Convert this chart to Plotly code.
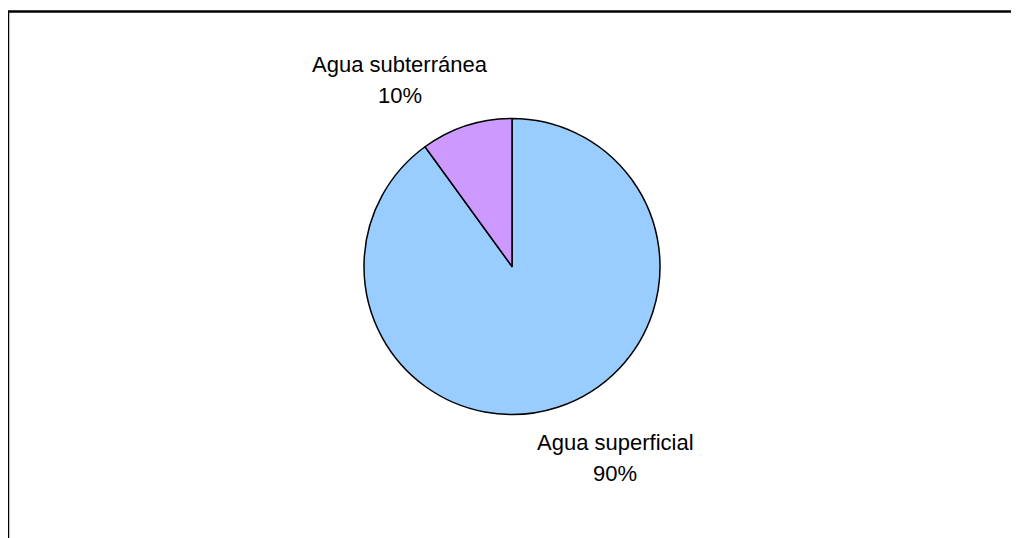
import plotly.graph_objects as go

labels = ["Agua superficial", "Agua subterránea"]
values = [90, 10]
colors = ["#99CCFF", "#CC99FF"]

W, H = 1019, 538
# page is shown with a small body offset; compensate
ox, oy = 8, 7.5
cx, cy, r = 512 - ox, 266 - oy, 148

fig = go.Figure(go.Pie(
    labels=labels, values=values, sort=False, direction="clockwise", rotation=0,
    marker=dict(colors=colors, line=dict(color="black", width=1.5)),
    textinfo="none", hoverinfo="label+percent", showlegend=False,
    domain=dict(x=[(cx - r) / W, (cx + r) / W], y=[(H - cy - r) / H, (H - cy + r) / H]),
))

total = sum(values)
# (x center, name line y center, percent line y center) in screen pixels
label_pos = {"Agua superficial": (615, 441.5, 473), "Agua subterránea": (400, 63.5, 95)}
font = dict(family="Liberation Sans, Arial", size=22, color="black")
for lab, v in zip(labels, values):
    px, py1, py2 = label_pos[lab]
    for txt, py in ((lab, py1), (f"{round(100 * v / total)}%", py2)):
        fig.add_annotation(
            x=(px - ox) / W, y=1 - (py - oy) / H, xref="paper", yref="paper",
            showarrow=False, xanchor="center", yanchor="middle",
            text=txt, font=font, align="center",
        )

fig.add_shape(type="rect", xref="paper", yref="paper",
              x0=0, x1=1.05, y0=-0.05, y1=1 - (11 - oy) / H,
              line=dict(color="black", width=2.5), fillcolor="rgba(0,0,0,0)")

fig.update_layout(width=W, height=H, margin=dict(l=0, r=0, t=0, b=0),
                  paper_bgcolor="white", plot_bgcolor="white")
fig.write_html("out.html")
